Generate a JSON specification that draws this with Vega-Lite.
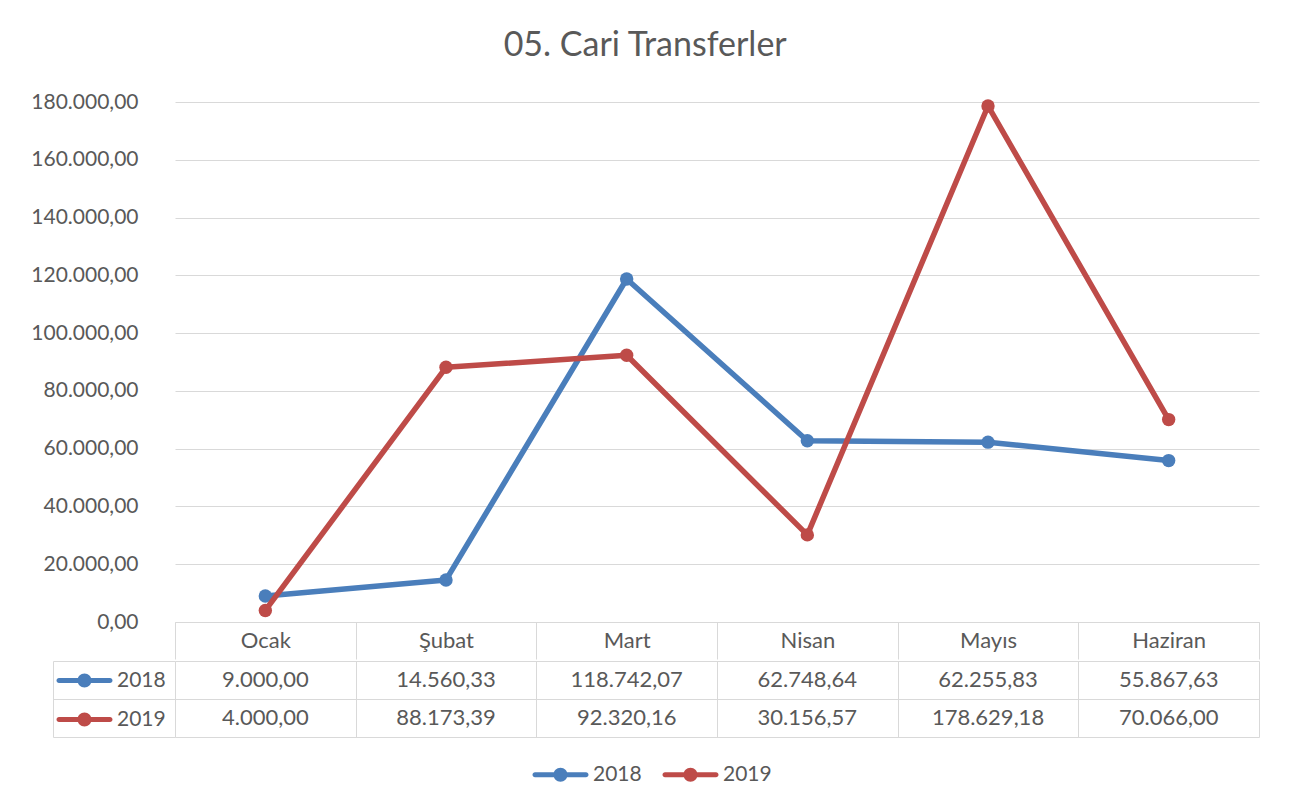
{
  "$schema": "https://vega.github.io/schema/vega-lite/v6.json",
  "background": "white",
  "padding": {"left": 30, "top": 29, "right": 33, "bottom": 10},
  "title": {"text": "05. Cari Transferler", "fontSize": 34, "font": "Lato", "fontWeight": "normal", "color": "#595959", "anchor": "middle", "offset": 28},
  "config": {
    "font": "Lato",
    "locale": {"number": {"decimal": ",", "thousands": ".", "grouping": [3], "currency": ["", ""]}},
    "view": {"stroke": null},
    "axis": {"labelFont": "Lato", "labelFontSize": 21, "labelColor": "#595959"},
    "legend": {"labelFont": "Lato", "labelFontSize": 21, "labelColor": "#595959", "padding": 0}
  },
  "datasets": {
    "d": [
      {"month": "Ocak", "series": "2018", "value": 9000.00},
      {"month": "Şubat", "series": "2018", "value": 14560.33},
      {"month": "Mart", "series": "2018", "value": 118742.07},
      {"month": "Nisan", "series": "2018", "value": 62748.64},
      {"month": "Mayıs", "series": "2018", "value": 62255.83},
      {"month": "Haziran", "series": "2018", "value": 55867.63},
      {"month": "Ocak", "series": "2019", "value": 4000.00},
      {"month": "Şubat", "series": "2019", "value": 88173.39},
      {"month": "Mart", "series": "2019", "value": 92320.16},
      {"month": "Nisan", "series": "2019", "value": 30156.57},
      {"month": "Mayıs", "series": "2019", "value": 178629.18},
      {"month": "Haziran", "series": "2019", "value": 70066.00}
    ]
  },
  "spacing": 0,
  "resolve": {"scale": {"fill": "independent"}, "legend": {"color": "independent", "fill": "independent"}},
  "vconcat": [
    {
      "width": 1084,
      "height": 520,
      "data": {"name": "d"},
      "encoding": {
        "x": {"field": "month", "type": "nominal", "sort": ["Ocak", "Şubat", "Mart", "Nisan", "Mayıs", "Haziran"],
          "scale": {"paddingInner": 0, "paddingOuter": 0},
          "axis": {"title": null, "labelAngle": 0, "labelFontSize": 22, "domainColor": "#d9d9d9", "tickColor": "#d9d9d9", "tickBand": "extent", "tickSize": 37, "labelPadding": -19, "labelBaseline": "middle", "minExtent": 37, "maxExtent": 37, "grid": false}},
        "y": {"field": "value", "type": "quantitative", "scale": {"domain": [0, 180000]},
          "axis": {"title": null, "values": [0, 20000, 40000, 60000, 80000, 100000, 120000, 140000, 160000, 180000], "format": ",.2f", "grid": true, "gridColor": "#d9d9d9", "domain": false, "ticks": false, "tickSize": 0, "labelPadding": 37}},
        "color": {"field": "series", "type": "nominal", "scale": {"domain": ["2018", "2019"], "range": ["#4A7EBB", "#BE4B48"]}, "legend": null}
      },
      "layer": [
        {"transform": [{"filter": "datum.series == '2018'"}], "mark": {"type": "line", "strokeWidth": 5.5, "strokeCap": "round", "strokeJoin": "round"}},
        {"transform": [{"filter": "datum.series == '2018'"}], "mark": {"type": "point", "filled": true, "size": 180, "opacity": 1}},
        {"transform": [{"filter": "datum.series == '2019'"}], "mark": {"type": "line", "strokeWidth": 5.5, "strokeCap": "round", "strokeJoin": "round"}},
        {"transform": [{"filter": "datum.series == '2019'"}], "mark": {"type": "point", "filled": true, "size": 180, "opacity": 1}}
      ]
    },
    {
      "width": 1084,
      "height": 76,
      "data": {"name": "d"},
      "encoding": {
        "x": {"field": "month", "type": "nominal", "sort": ["Ocak", "Şubat", "Mart", "Nisan", "Mayıs", "Haziran"],
          "scale": {"paddingInner": 0, "paddingOuter": 0},
          "axis": {"title": null, "labels": false, "ticks": false, "domain": false, "grid": true, "gridColor": "#d9d9d9", "tickBand": "extent"}},
        "y": {"field": "series", "type": "nominal", "sort": ["2018", "2019"],
          "scale": {"paddingInner": 0, "paddingOuter": 0},
          "axis": {"title": null, "labels": false, "grid": true, "gridColor": "#d9d9d9", "tickBand": "extent", "domain": true, "domainColor": "#d9d9d9", "ticks": true, "tickColor": "#d9d9d9", "tickSize": -122, "offset": 122}}
      },
      "layer": [
        {"mark": {"type": "text", "fontSize": 22, "color": "#595959", "font": "Lato"},
          "encoding": {"text": {"field": "value", "type": "quantitative", "format": ",.2f"}}},
        {"mark": {"type": "point", "filled": true, "opacity": 0},
          "encoding": {"color": {"field": "series", "type": "nominal",
            "legend": {"orient": "none", "direction": "horizontal", "legendX": 375, "legendY": 103, "title": null,
              "symbolType": "M-2.55,-0.25H2.55A0.25,0.25 0 0 1 2.55,0.25H-2.55A0.25,0.25 0 0 1 -2.55,-0.25Z M0.7,0A0.7,0.7 0 1 1 -0.7,0A0.7,0.7 0 1 1 0.7,0Z",
              "symbolSize": 400, "symbolOpacity": 1, "symbolStrokeWidth": 0, "labelOffset": 22, "columnPadding": 20}}}},
        {"mark": {"type": "point", "filled": true, "opacity": 0},
          "encoding": {"fill": {"field": "series", "type": "nominal", "scale": {"domain": ["2018", "2019"], "range": ["#4A7EBB", "#BE4B48"]},
            "legend": {"orient": "left", "direction": "vertical", "title": null,
              "symbolType": "M-2.55,-0.25H2.55A0.25,0.25 0 0 1 2.55,0.25H-2.55A0.25,0.25 0 0 1 -2.55,-0.25Z M0.7,0A0.7,0.7 0 1 1 -0.7,0A0.7,0.7 0 1 1 0.7,0Z",
              "symbolSize": 400, "symbolOpacity": 1, "symbolStrokeWidth": 0, "labelOffset": 22, "rowPadding": 17, "padding": 9, "offset": -123}}}}
      ]
    }
  ]
}
